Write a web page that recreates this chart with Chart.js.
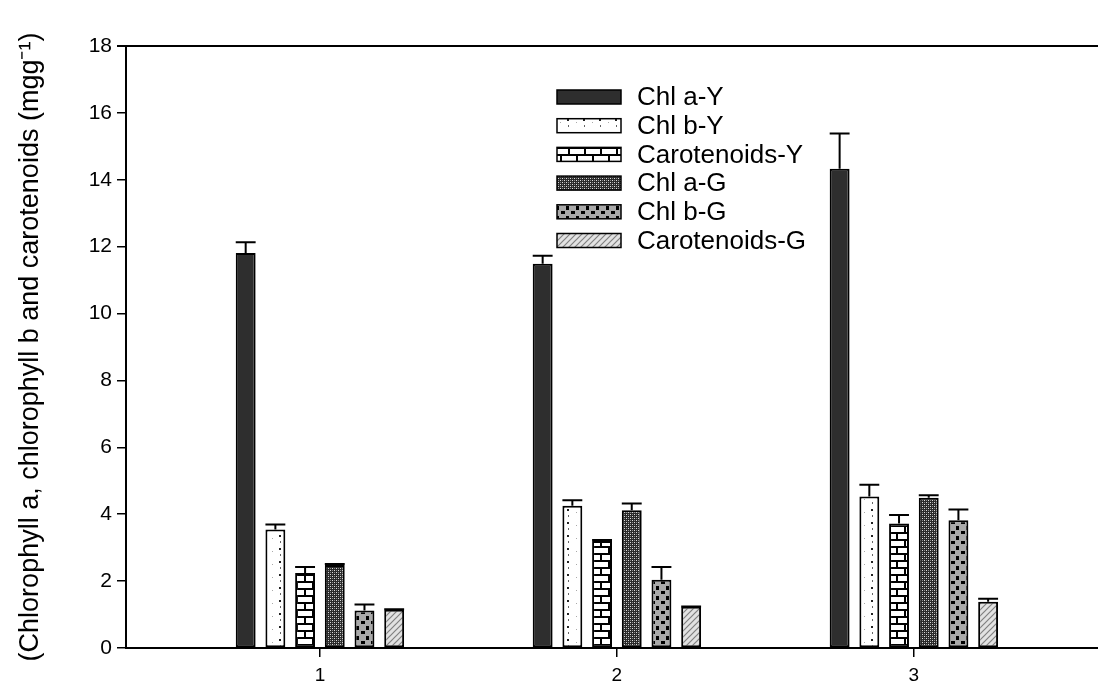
<!DOCTYPE html>
<html>
<head>
<meta charset="utf-8">
<script src="https://cdn.jsdelivr.net/npm/chart.js@4.4.1/dist/chart.umd.min.js"></script>
<style>
  html, body { margin: 0; padding: 0; background: #fff; }
  #wrap { width: 1098px; height: 691px; }
</style>
</head>
<body>
<div id="wrap"><canvas id="pigmentChart" width="1098" height="691"></canvas></div>
<script>
// DATA
const categories = [1, 2, 3];
const seriesNames = ["Chl a-Y", "Chl b-Y", "Carotenoids-Y", "Chl a-G", "Chl b-G", "Carotenoids-G"];

const chlaY = [11.81, 11.49, 14.33];
const chlbY = [3.54, 4.25, 4.53];
const carotY = [2.24, 3.20, 3.72];
const chlaG = [2.48, 4.12, 4.49];
const chlbG = [1.12, 2.04, 3.82];
const carotG = [1.14, 1.23, 1.38];

const chlaYErr = [0.32, 0.24, 1.05];
const chlbYErr = [0.15, 0.17, 0.35];
const carotYErr = [0.18, 0.03, 0.26];
const chlaGErr = [0.03, 0.20, 0.08];
const chlbGErr = [0.18, 0.38, 0.32];
const carotGErr = [0.02, 0.01, 0.09];

const yTicks = [0, 2, 4, 6, 8, 10, 12, 14, 16, 18];
const yTitle = "(Chlorophyll a, chlorophyll b and carotenoids (mgg\u207B\u00B9)";

const FONT = "'Liberation Sans', Arial, sans-serif";

// PATTERNS
function tile(w, h, draw) {
    const c = document.createElement("canvas");
    c.width = w;
    c.height = h;
    const g = c.getContext("2d");
    draw(g);
    return g.createPattern(c, "repeat");
}

const fills = [
    "#2e2e2e",
    tile(16, 13, g => {
        g.fillStyle = "#fff"; g.fillRect(0, 0, 16, 13);
        g.fillStyle = "#222"; g.fillRect(7, 2, 2, 2);
        g.fillStyle = "#666"; g.fillRect(8, 8, 1, 2);
        g.fillStyle = "#aaa"; g.fillRect(0, 5, 1, 1);
    }),
    tile(16, 14, g => {
        g.fillStyle = "#fff"; g.fillRect(0, 0, 16, 14);
        g.fillStyle = "#000";
        g.fillRect(0, 0, 16, 2);
        g.fillRect(0, 7, 16, 2);
        g.fillRect(0, 0, 2, 7);
        g.fillRect(8, 7, 2, 7);
    }),
    tile(4, 4, g => {
        g.fillStyle = "#2a2a2a"; g.fillRect(0, 0, 4, 4);
        g.fillStyle = "#dcdcdc";
        g.fillRect(0, 0, 1, 1);
        g.fillRect(2, 2, 1, 1);
        g.fillStyle = "#8a8a8a";
        g.fillRect(0, 2, 1, 1);
        g.fillRect(2, 0, 1, 1);
    }),
    tile(10, 10, g => {
        g.fillStyle = "#a9a9a9"; g.fillRect(0, 0, 10, 10);
        g.fillStyle = "#000";
        g.fillRect(1, 1, 4, 3);
        g.fillRect(6, 6, 3, 4);
    }),
    tile(6, 6, g => {
        g.fillStyle = "#e2e2e2"; g.fillRect(0, 0, 6, 6);
        g.strokeStyle = "#808080"; g.lineWidth = 1.2;
        g.beginPath();
        g.moveTo(-1, 7); g.lineTo(7, -1);
        g.moveTo(-4, 4); g.lineTo(4, -4);
        g.moveTo(2, 10); g.lineTo(10, 2);
        g.stroke();
    })
];

const seriesValues = [chlaY, chlbY, carotY, chlaG, chlbG, carotG];
const seriesErrors = [chlaYErr, chlbYErr, carotYErr, chlaGErr, chlbGErr, carotGErr];

const datasets = seriesNames.map((name, i) => ({
    label: name,
    data: seriesValues[i].map((v, j) => ({ x: categories[j], y: v })),
    errors: seriesErrors[i],
    backgroundColor: fills[i],
    borderColor: "#000",
    borderWidth: 2,
    borderSkipped: false,
    categoryPercentage: 0.6,
    barPercentage: 0.67
}));

// ERROR BARS (upper only)
const errorBars = {
    id: "errorBars",
    afterDatasetsDraw(chart) {
        const ctx = chart.ctx;
        const y = chart.scales.y;
        ctx.save();
        ctx.strokeStyle = "#000";
        ctx.lineWidth = 2;
        chart.data.datasets.forEach((ds, i) => {
            chart.getDatasetMeta(i).data.forEach((bar, j) => {
                const err = ds.errors[j];
                if (!err) return;
                const top = y.getPixelForValue(ds.data[j].y + err);
                const half = bar.width / 2;
                ctx.beginPath();
                ctx.moveTo(bar.x, bar.y);
                ctx.lineTo(bar.x, top);
                ctx.moveTo(bar.x - half, top);
                ctx.lineTo(bar.x + half, top);
                ctx.stroke();
            });
        });
        ctx.restore();
    }
};

// LEGEND inside plot
const boxLegend = {
    id: "boxLegend",
    afterDraw(chart) {
        const ctx = chart.ctx;
        const x0 = 557, y0 = 97, step = 28.7, bw = 64, bh = 14;
        ctx.save();
        ctx.font = "26px " + FONT;
        ctx.textBaseline = "middle";
        chart.data.datasets.forEach((ds, i) => {
            const cy = y0 + i * step;
            ctx.fillStyle = ds.backgroundColor;
            ctx.fillRect(x0, cy - bh / 2, bw, bh);
            ctx.strokeStyle = "#000";
            ctx.lineWidth = 1.5;
            ctx.strokeRect(x0, cy - bh / 2, bw, bh);
            ctx.fillStyle = "#000";
            ctx.fillText(ds.label, x0 + 80, cy + 1);
        });
        ctx.restore();
    }
};

// CREATE CHART
const chart = new Chart(document.getElementById("pigmentChart"), {
    type: "bar",
    data: { datasets },
    options: {
        responsive: false,
        animation: false,
        layout: { padding: { top: 46, right: 0, bottom: 0, left: 0 } },
        plugins: {
            legend: { display: false },
            tooltip: { enabled: false }
        },
        scales: {
            x: {
                type: "linear",
                min: 0.347,
                max: 3.62,
                offset: false,
                afterBuildTicks: s => { s.ticks = categories.map(v => ({ value: v })); },
                afterFit: s => { s.height = 43; },
                grid: {
                    offset: false,
                    drawOnChartArea: false,
                    color: "#000",
                    lineWidth: 1.5,
                    tickLength: 9
                },
                border: { display: true, color: "#000", width: 2 },
                ticks: {
                    color: "#000",
                    padding: 7,
                    font: { family: FONT, size: 19 },
                    maxRotation: 0
                }
            },
            y: {
                min: 0,
                max: 18,
                afterBuildTicks: s => { s.ticks = yTicks.map(v => ({ value: v })); },
                afterFit: s => { s.width = 126; },
                grid: {
                    color: c => (c.tick && c.tick.value === 18) ? "#000" : "rgba(0,0,0,0)",
                    tickColor: "#000",
                    lineWidth: c => (c.tick && c.tick.value === 18) ? 2 : 1.5,
                    tickLength: 9
                },
                border: { display: true, color: "#000", width: 2 },
                ticks: {
                    color: "#000",
                    padding: 5,
                    font: { family: FONT, size: 21 }
                },
                title: {
                    display: true,
                    text: yTitle,
                    color: "#000",
                    font: { family: FONT, size: 27 },
                    padding: { top: 14, bottom: 0 }
                }
            }
        }
    },
    plugins: [errorBars, boxLegend]
});
</script>
</body>
</html>
